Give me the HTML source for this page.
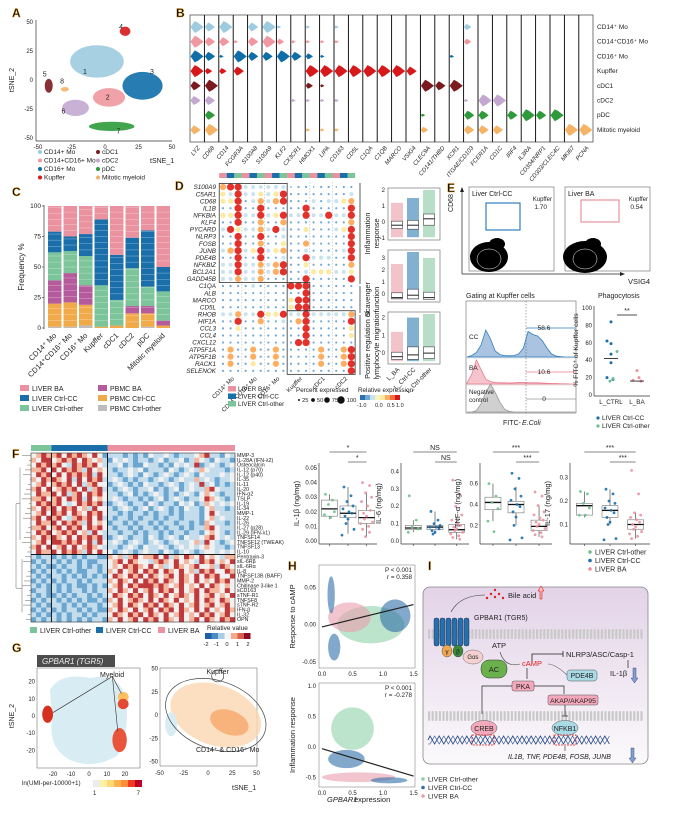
<!DOCTYPE html>
<html><head><meta charset="utf-8"><title>Myeloid figure</title>
<style>
html,body{margin:0;padding:0;background:#fff}
svg{display:block;font-family:"Liberation Sans",Arial,sans-serif}
.pl{font-weight:bold;font-size:12px;fill:#111;stroke:#f39c12;stroke-width:0.4}
</style></head>
<body>
<svg id="fig" width="673" height="814" viewBox="0 0 673 814" xmlns="http://www.w3.org/2000/svg">
<text class="pl" x="12" y="17">A</text>
<text class="pl" x="176" y="17">B</text>
<text class="pl" x="12" y="196">C</text>
<text class="pl" x="175" y="190">D</text>
<text class="pl" x="447" y="192">E</text>
<text class="pl" x="12" y="458">F</text>
<text class="pl" x="12" y="652">G</text>
<text class="pl" x="288" y="570">H</text>
<text class="pl" x="428" y="570">I</text>
</svg>
<script>
const NS='http://www.w3.org/2000/svg';
const svg=document.getElementById('fig');
function mk(tag,attrs,parent){const e=document.createElementNS(NS,tag);for(const k in attrs)e.setAttribute(k,attrs[k]);(parent||svg).appendChild(e);return e;}
function tx(x,y,s,size,extra){const t=mk('text',Object.assign({x:x,y:y,'font-size':size,fill:'#222'},extra||{}));t.textContent=s;return t;}

/* ================= A: tSNE ================= */
const tsneClusters=['CD14+ Mo','CD14+CD16+ Mo','CD16+ Mo','Kupffer','cDC1','cDC2','pDC','Mitotic myeloid'];
const tsneCx=[-6,3,28,15,-42,-22,5,-30];
const tsneCy=[16,-15,-5,42,-5,-24,-40,-8];
const tsneRx=[20,12,15,4,3,10,17,3];
const tsneRy=[14,8,12,4,6,7,4,2];
const tsneNumX=[-15,2,35,12,-45,-31,10,-32];
const tsneNumY=[5,-17,5,44,3,-29,-46,-3];
const tsneNums=['1','2','3','4','5','6','7','8'];
const tsneTicks=[-50,-25,0,25,50];
const cellColors=['#9fcbe0','#f0979f','#0f6ea8','#d7191c','#7b1a1f','#c3a7d0','#2e9a3a','#f5b366'];
const axA=v=>38+(v+50)*1.34, ayA=v=>22+(50-v)*1.16;
{const a1=mk('line',{x1:36,y1:20,x2:36,y2:141,stroke:'#333','stroke-width':0.7});


const a2=mk('line',{x1:36,y1:141,x2:172,y2:141,stroke:'#333','stroke-width':0.7});


tsneTicks.forEach(t=>{tx(axA(t),149,String(t),6,{'text-anchor':'middle'});tx(33,ayA(t)+2,String(t),6,{'text-anchor':'end'});});
const yl=tx(14,80,'tSNE_2',7,{transform:'rotate(-90 14 80)','text-anchor':'middle'});


const xl=tx(150,163,'tSNE_1',7);


tsneClusters.forEach((c,i)=>{
 const e=mk('ellipse',{cx:axA(tsneCx[i]),cy:ayA(tsneCy[i]),rx:tsneRx[i]*1.34,ry:tsneRy[i]*1.16,fill:cellColors[i],opacity:0.9});
 
 
 tx(axA(tsneNumX[i]),ayA(tsneNumY[i]),tsneNums[i],7,{'text-anchor':'middle'});
 const col=i<4?0:1, row=i%4;
 const lx=col?98:40, ly=154+row*8.5;
 const d=mk('circle',{cx:lx,cy:ly-2,r:2,fill:cellColors[i]});
 
 
 tx(lx+4,ly,c,6.5);
});}

/* ================= B: violins ================= */
const violinGenes=['LYZ','CD68','CD14','FCGR3A','S100A8','S100A9','KLF2','CX3CR1','HMOX1','LIPA','CD163','CD5L','C1QA','C1QB','MARCO','VSIG4','CLEC9A','CD141/THBD','XCR1','ITGAE/CD103','FCER1A','CD1C','IRF4','IL3RA','CD304/NRP1','CD303/CLEC4C','MKI67','PCNA'];
const violinRows=['CD14\u207A Mo','CD14\u207ACD16\u207A Mo','CD16\u207A Mo','Kupffer','cDC1','cDC2','pDC','Mitotic myeloid'];
const violinLevels=['44443303','33324334','43120000','01430000','33300000','44300000','12400000','01300100','11242101','01141101','11040101','00040000','00040000','00040000','00040000','00030000','00004012','00003000','00104000','22000133','00000433','00000403','00000030','00000040','00000030','00000040','00000004','00000004'];
{const bx=190,bw=14.4;
const r=mk('rect',{x:bx,y:15,width:403,height:127,fill:'none',stroke:'#555','stroke-width':0.8});


violinGenes.forEach((g,j)=>{
 const x0=bx+j*bw;
 if(j>0){mk('line',{x1:x0,y1:15,x2:x0,y2:142,stroke:'#000','stroke-width':0.9});}
 const t=tx(x0+bw/2+3,148,g,6,{'text-anchor':'end','font-style':'italic',transform:'rotate(-50 '+(x0+bw/2+3)+' 148)'});
 
 
 for(let i=0;i<8;i++){
  const lv=+violinLevels[j][i]; if(!lv)continue;
  const cy=27+i*14.7, L=2+lv*2.9, h=lv*1.5;
  const p=mk('path',{d:'M'+(x0+0.5)+' '+cy+' L'+(x0+L*0.35)+' '+(cy-h)+' L'+(x0+L*0.6)+' '+(cy-h*0.7)+' L'+(x0+L)+' '+cy+' L'+(x0+L*0.6)+' '+(cy+h*0.7)+' L'+(x0+L*0.35)+' '+(cy+h)+'Z',fill:cellColors[i]});
  
  
 }
});
violinRows.forEach((rn,i)=>{const t=tx(597,29+i*14.7,rn,6.5);});}

/* ================= C: stacked bars ================= */
const barCats=['CD14\u207A Mo','CD14\u207ACD16\u207A Mo','CD16\u207A Mo','Kupffer','cDC1','cDC2','pDC','Mitotic myeloid'];
const segNames=['PBMC Ctrl-other','PBMC Ctrl-CC','PBMC BA','LIVER Ctrl-other','LIVER Ctrl-CC','LIVER BA'];
const segPbmcOther=[1,1,2,0,0,0,1,0];
const segPbmcCC=[19,20,17,1,2,12,11,2];
const segPbmcBA=[19,24,16,0,0,6,6,4];
const segLiverOther=[23,18,24,34,21,31,16,24];
const segLiverCC=[17,12,18,54,37,25,46,20];
const segLiverBA=[21,25,23,11,40,26,20,50];
const segColors=['#bdbdbd','#f0aa4a','#b55a9b','#7cc49a','#1a6fab','#ea929f'];
const freqTicks=[0,25,50,75,100];
{const y0=328,yh=122/100,xs=k=>48+k*15.5;
const yAx=mk('line',{x1:44,y1:205,x2:44,y2:329,stroke:'#333','stroke-width':0.7});


freqTicks.forEach(t=>{tx(41,y0-t*yh+2,String(t),6.5,{'text-anchor':'end'});mk('line',{x1:42,x2:44,y1:y0-t*yh,y2:y0-t*yh,stroke:'#333','stroke-width':0.6});});
const yt=tx(24,267,'Frequency %',8,{transform:'rotate(-90 24 267)','text-anchor':'middle'});


const series=[segPbmcOther,segPbmcCC,segPbmcBA,segLiverOther,segLiverCC,segLiverBA];
barCats.forEach((c,k)=>{
 let cum=0;
 series.forEach((s,si)=>{
  const v=s[k]; if(v<=0)return;
  const r=mk('rect',{x:xs(k),y:y0-(cum+v)*yh,width:13.5,height:v*yh,fill:segColors[si]});
  
  
  for(let q=1;q<v/5;q++){mk('line',{x1:xs(k),x2:xs(k)+13.5,y1:y0-(cum+q*5)*yh,y2:y0-(cum+q*5)*yh,stroke:'#fff','stroke-width':0.35,opacity:0.7});}
  cum+=v;
 });
 const cx=xs(k)+9;
 const t=tx(cx,336,c,7.5,{'text-anchor':'end',transform:'rotate(-45 '+cx+' 336)'});
 
 
});
[5,4,3,2,1,0].forEach((si,n)=>{
 const col=n<3?0:1,row=n%3, lx=col?98:20, ly=391+row*10;
 const r=mk('rect',{x:lx,y:ly-6,width:9,height:6,fill:segColors[si]});
 
 
 tx(lx+12,ly,segNames[si],7);
});}

/* ================= D: dot plot ================= */
const dotGenes=['S100A9','C5AR1','CD68','IL1B','NFKBIA','KLF4','PYCARD','NLRP3','FOSB','JUNB','PDE4B','NFKBIZ','BCL2A1','GADD45B','C1QA','ALB','MARCO','CD5L','RHOB','HIF1A','CCL3','CCL4','CXCL12','ATP5F1A','ATP5F1B','RACK1','SELENOK'];
const dotGroups=['CD14\u207A Mo','CD14\u207ACD16\u207A Mo','CD16\u207A Mo','Kupffer','cDC1','cDC2'];
const dotLevels=['455222222011011011','325223235111111112','335124245111212234','115115111115111115','335225235225225225','115114114111111114','253224252113111235','115115112111111115','115114113114111115','245235234112111125','115115112115222115','225224245113111114','225224245112333223','224224111115111115','111121111555111111','111111111115111111','111111111355111111','111111111355111111','224225335225222224','115114112145111115','113111111115111113','111111111115111113','111111111155111111','141141141111141145','141141141111141145','141131141111141145','111111111111111115'];
const dotSize=[0.7,1.1,2.0,2.6,3.1,3.6];
const dotCol=['#4a8cc4','#6fa8d6','#c8e3ef','#fde9a0','#fdae61','#e4302a'];
const groupStrip=['#ea929f','#1a6fab','#7cc49a'];
{const cx=j=>223+j*7.55, cy=i=>187+i*7.07;
for(let j=0;j<18;j++){const s=mk('rect',{x:cx(j)-3.8,y:173,width:7.6,height:5,fill:groupStrip[j%3]});}
for(let g=1;g<6;g++){mk('line',{x1:cx(3*g-0.5),x2:cx(3*g-0.5),y1:182,y2:374,stroke:'#aaa','stroke-width':0.5,'stroke-dasharray':'1.5 1.5'});}
dotGenes.forEach((gn,i)=>{
 const t=tx(216,cy(i)+2.2,gn,6.3,{'text-anchor':'end','font-style':'italic'});
 
 
 for(let j=0;j<18;j++){const lv=+dotLevels[i][j];
  const c=mk('circle',{cx:cx(j),cy:cy(i),r:dotSize[lv],fill:dotCol[lv]});
  
  }
});
[[0,14,0,9],[14,18,9,12],[18,27,9,18]].forEach(b=>{const r=mk('rect',{x:cx(b[2]-0.5),y:cy(b[0]-0.5),width:(b[3]-b[2])*7.55,height:(b[1]-b[0])*7.07,fill:'none',stroke:'#333','stroke-width':0.8});});
dotGroups.forEach((g,k)=>{const x=cx(3*k+1)+4;const t=tx(x,379,g,6,{'text-anchor':'end',transform:'rotate(-45 '+x+' 379)'});});
[['LIVER BA','#ea929f'],['LIVER Ctrl-CC','#1a6fab'],['LIVER Ctrl-other','#7cc49a']].forEach((e,n)=>{const r=mk('rect',{x:228,y:386+n*7.5,width:8,height:5.5,fill:e[1]});tx(238,391+n*7.5,e[0],6.3);});
tx(296,392,'Percent expressed',6.3);
const pctVals=['25','50','75','100'];
pctVals.forEach((p,n)=>{const c=mk('circle',{cx:299+n*14,cy:400,r:1+n*0.9,fill:'#111'});tx(302+n*14+n*0.9,402,p,5.8);});
tx(358,392,'Relative expression',6.3);
const cb=['#2c6fb3','#6fa8d6','#c8e3ef','#f5f5c0','#fde9a0','#fdae61','#f46d43','#d7191c'];
cb.forEach((c,n)=>{mk('rect',{x:360+n*5,y:395,width:5,height:5,fill:c});});
tx(357,407,'-1.0',5.5);tx(375,407,'0.0',5.5);tx(387,407,'0.5',5.5);tx(396,407,'1.0',5.5);
[[183,284,'Inflammation','response'],[286,313,'Scavenger','function'],[315,375,'Positive regulation of','lymphocyte migration']].forEach((b,n)=>{
 mk('line',{x1:360,x2:360,y1:b[0],y2:b[1],stroke:'#333','stroke-width':0.8});
 const m=(b[0]+b[1])/2;
 const t1=tx(370,m,b[2],7.3,{'text-anchor':'middle',transform:'rotate(-90 370 '+m+')'});
 
 
 tx(379,m,b[3],7.3,{'text-anchor':'middle',transform:'rotate(-90 379 '+m+')'});
});}
const modTop=[188,250,312];
const modMed=[[-0.2,-0.2,0.2],[-0.3,-0.1,-0.3],[-0.2,-0.1,0.0]];
const modQ1=[[-0.4,-0.45,-0.2],[-0.4,-0.4,-0.45],[-0.35,-0.35,-0.3]];
const modQ3=[[0.05,0.1,0.5],[0.1,0.4,0.15],[0.05,0.35,0.35]];
const modHi=[[1.2,1.5,2.0],[2.5,3.5,3.0],[1.2,2.0,2.2]];
const modYmin=[-1,-0.5,-0.5], modYmax=[2,3.5,2.2];
const modTicks=[['2','1','0','-1'],['3','2','1','0'],['2','1','0']];
const modTickV=[[2,1,0,-1],[3,2,1,0],[2,1,0]];
{const grp=['#ea929f','#1a6fab','#7cc49a'];
modTop.forEach((y0,m)=>{
 const h=52,fy=v=>y0+h-(v-modYmin[m])/(modYmax[m]-modYmin[m])*(h-4)-2;
 const r=mk('rect',{x:388,y:y0,width:52,height:h,fill:'#fff',stroke:'#888','stroke-width':0.8});
 
 
 modTickV[m].forEach((v,n)=>tx(385,fy(v)+2,modTicks[m][n],6,{'text-anchor':'end'}));
 for(let g=0;g<3;g++){
  const x=397+g*16;
  const cl=mk('rect',{x:x-6,y:fy(modHi[m][g]),width:12,height:fy(modYmin[m]+0.05)-fy(modHi[m][g]),fill:grp[g],opacity:0.55});
  
  
  const b=mk('rect',{x:x-5.5,y:fy(modQ3[m][g]),width:11,height:fy(modQ1[m][g])-fy(modQ3[m][g]),fill:'#fff',stroke:'#444','stroke-width':0.6});
  
  
  mk('line',{x1:x-5.5,x2:x+5.5,y1:fy(modMed[m][g]),y2:fy(modMed[m][g]),stroke:'#222','stroke-width':1});
 }
});
['L_BA','L_Ctrl-CC','L_Ctrl-other'].forEach((s,g)=>{const x=400+g*16;tx(x,370,s,6.3,{'text-anchor':'end',transform:'rotate(-45 '+x+' 370)'});});}

/* ================= E: flow ================= */
{[[469,'Liver Ctrl-CC','1.70',[486,203,34,27],'#2f7fc0'],[565,'Liver BA','0.54',[581,200,38,22],'#ea929f']].forEach((p,n)=>{
 const x=p[0];
 const f=mk('rect',{x:x,y:187,width:85,height:84,fill:'#fff',stroke:'#666','stroke-width':0.6});
 
 
 const b=mk('ellipse',{cx:x+20,cy:257,rx:n?22:19,ry:n?16:15,fill:'#000'});
 
 
 mk('ellipse',{cx:x+20,cy:259,rx:12,ry:10,fill:'none',stroke:'#fff','stroke-width':0.5});
 mk('ellipse',{cx:x+28,cy:244,rx:8,ry:6,fill:'#000'});
 const g=mk('rect',{x:p[3][0],y:p[3][1],width:p[3][2],height:p[3][3],fill:'none',stroke:p[4],'stroke-width':1.2});
 
 
 tx(x+3,196,p[1],7);tx(x+83,201,'Kupffer',6,{'text-anchor':'end'});tx(x+78,209,p[2],6.5,{'text-anchor':'end'});
});
mk('line',{x1:462,y1:274,x2:462,y2:190,stroke:'#222','stroke-width':0.7});
mk('path',{d:'M460 192 L462 187 L464 192Z',fill:'#222'});
mk('line',{x1:462,y1:274,x2:620,y2:274,stroke:'#222','stroke-width':0.7});
mk('path',{d:'M620 272 L625 274 L620 276Z',fill:'#222'});
tx(453,203,'CD68',7,{transform:'rotate(-90 453 203)','text-anchor':'middle'});
tx(628,284,'VSIG4',7.5);
tx(466,298,'Gating at Kupffer cells',7);
tx(598,298,'Phagocytosis',7);}
const histBins=[0,1,2,3,4,5,6,7,8,9,10,11,12,13,14,15,16,17,18,19,20,21,22,23];
const histCC=[0,0.05,0.15,0.4,0.9,0.6,0.2,0.08,0.05,0.04,0.05,0.1,0.3,0.85,0.75,0.7,0.55,0.3,0.1,0.03,0.01,0,0,0];
const histBA=[0.05,0.4,1,0.6,0.2,0.1,0.06,0.05,0.05,0.04,0.05,0.06,0.06,0.05,0.05,0.05,0.04,0.03,0.02,0.02,0.01,0.01,0,0];
const histNeg=[0,0,0.05,0.3,0.7,1,0.7,0.35,0.1,0.02,0,0,0,0,0,0,0,0,0,0,0,0,0,0];
const histPct=['58.6','10.6','0'];
{const f=mk('rect',{x:466,y:301,width:110,height:112,fill:'#fff',stroke:'#666','stroke-width':0.6});


const hx=b=>467+b*4.7;
[[histCC,357,'#2f7fc0','#a9c3e0','CC',30],[histBA,384,'#ea7d8f','#f5c4cc','BA',24],[histNeg,412,'#999','#d0d0d0','',28]].forEach((h,n)=>{
 let d='M'+hx(0)+' '+h[1];
 histBins.forEach((b,i)=>{d+=' L'+hx(b)+' '+(h[1]-h[0][i]*h[5]);});
 d+=' L'+hx(23)+' '+h[1]+'Z';
 const p=mk('path',{d:d,fill:h[3],stroke:h[2],'stroke-width':0.8});
 
 
 if(n<2)mk('line',{x1:466,x2:576,y1:h[1]+1,y2:h[1]+1,stroke:'#bbb','stroke-width':0.4});
 if(h[4])tx(469,h[1]-14-(n?0:4),h[4],6.5);
 mk('line',{x1:526,x2:576,y1:h[1]-(n==0?29:n==1?12:13),y2:h[1]-(n==0?29:n==1?12:13),stroke:h[2],'stroke-width':0.7});
 tx(544,h[1]-(n==0?27:n==1?10:11),histPct[n],6.5,{'text-anchor':'middle'});
});
tx(469,394,'Negative',6.3);tx(469,402,'control',6.3);
mk('line',{x1:526,x2:526,y1:301,y2:413,stroke:'#555','stroke-width':0.5,'stroke-dasharray':'1.5 1.5'});
tx(503,425,'FITC-',7);tx(522,425,'E.Coli',7,{'font-style':'italic'});}
const phagoCC=[84,62,59,47,37,20,18];
const phagoOther=[50,19,16];
const phagoBA=[28,20,17,16];
const phagoTicks=[0,20,40,60,80,100];
{const py=v=>395-v*0.87;
mk('line',{x1:594,x2:594,y1:306,y2:396,stroke:'#333','stroke-width':0.7});
mk('line',{x1:594,x2:650,y1:396,y2:396,stroke:'#333','stroke-width':0.7});
phagoTicks.forEach(t=>tx(592,py(t)+2,String(t),6,{'text-anchor':'end'}));
tx(578,350,'% FITC\u207A of Kupffer cells',6.8,{transform:'rotate(-90 578 350)','text-anchor':'middle'});
const ccOff=[0,-4,0,0,0,-4,2], oOff=[3,-1,-4], bOff=[0,2,-4,4];
phagoCC.forEach((v,i)=>{const c=mk('circle',{cx:611+ccOff[i],cy:py(v),r:1.5,fill:'#1a6fab'});});
phagoOther.forEach((v,i)=>{const c=mk('circle',{cx:611+oOff[i]+3,cy:py(v),r:1.5,fill:'#6cc08e'});});
phagoBA.forEach((v,i)=>{const c=mk('circle',{cx:637+bOff[i],cy:py(v),r:1.5,fill:'#ea929f'});});
mk('line',{x1:604,x2:618,y1:py(42),y2:py(42),stroke:'#111','stroke-width':0.8});
mk('line',{x1:630,x2:644,y1:py(16),y2:py(16),stroke:'#111','stroke-width':0.8});
mk('line',{x1:617,x2:637,y1:315,y2:315,stroke:'#111','stroke-width':0.7});tx(627,313,'**',7,{'text-anchor':'middle'});
tx(611,404,'L_CTRL',6.3,{'text-anchor':'middle'});tx(637,404,'L_BA',6.3,{'text-anchor':'middle'});
[['LIVER Ctrl-CC','#1a6fab'],['LIVER Ctrl-other','#6cc08e']].forEach((e,n)=>{const c=mk('circle',{cx:598,cy:418+n*8,r:1.6,fill:e[1]});tx(602,420+n*8,e[0],6.5);});}

/* ================= F: heatmap ================= */
const heatRows=['MMP-3','IL-28A (IFN-\u03BB2)','Osteocalcin','IL-12 (p70)','IL-12 (p40)','IL-35','IL-11','IL-20','IFN-\u03B12','TSLP','IL-19','IL-34','MMP-1','IL-22','IL-26','IL-27 (p28)','IL-29 (IFN-\u03BB1)','TNFSF14','TNFSF12 (TWEAK)','TNFSF13','IL-10','Pentraxin-3','sIL-6R\u03B2','sIL-6R\u03B1','IL-8','TNFSF13B (BAFF)','MMP-2','Chitinase 3-like 1','sCD163','sTNF-R1','TNFSF8','sTNF-R2','IFN-\u03B2','IL-32','OPN'];
const heatVals=['2343342434324201110101021121011123411021','3244234342432310212101101201120132102110','2434342143434211120100211010212140121012','3342424343142321011212011102101213211101','2434242434341421101210210121012102111212','3243432414243411210101101210121131210112','2342343424134220121010211012101214120101','3424234342413411012101120101201211342111','2433424134243421101201012101012102321011','3342342434142321210110101201210112432101','2434342124343410121011021011021201321212','3243424342314221012101201210102110231101','2342434243243421101011010110101110242111','3424342134342411011010110101101110231211','2433424343142320110101101011011010321101','3342342434243421011010110101101011342111','2434234342314211101101011010110110232101','3243432424343410121011021012102112342121','2342443434241421210121012101211231421012','3424234242343211101210211210121212321101','2433424343142422012101211021012101221212','1011010101011003231342334241324324232133','0101101010100112342432213432423214342324','1010010110101012324343242312432342231432','0101101010011013242342434243242314342243','1010110101010102432434243234243242434224','0101010110101113243242434243243242324342','1010101010010102342434443432342324243232','0110101011010113243242342434242342433242','1010010101101012432434243242343242342324','0101101010100103242343242432423242432432','1010110101011012342432434243242342342342','0101010110101003243242342434243242423243','1010101011010112432434243242342324342342','0101101010101103242342434243242342432434'];
const heatGroupN=[4,11,25];
const heatColors=['#6aa6cf','#c3dded','#f1f1f1','#f3b7a0','#c0393b'];
{const x0=31,cw=204/40,y0=453,rh=169/35;
let c0=0;[['#7cc49a'],['#1a6fab'],['#ea929f']].forEach((g,n)=>{const r=mk('rect',{x:x0+c0*cw,y:445,width:heatGroupN[n]*cw,height:6,fill:g[0]});c0+=heatGroupN[n];});
heatRows.forEach((rn,i)=>{
 for(let j=0;j<40;j++){const c=mk('rect',{x:x0+j*cw,y:y0+i*rh,width:cw+0.2,height:rh+0.2,fill:heatColors[+heatVals[i][j]]});}
 const t=tx(237,y0+i*rh+4,rn,5.3);
 
 
});
mk('rect',{x:x0,y:y0,width:204,height:169,fill:'none',stroke:'#333','stroke-width':0.6});
mk('line',{x1:x0,x2:x0+204,y1:y0+21*rh,y2:y0+21*rh,stroke:'#000','stroke-width':0.9});
mk('line',{x1:x0+4*cw,x2:x0+4*cw,y1:y0,y2:y0+169,stroke:'#000','stroke-width':0.9});
mk('line',{x1:x0+15*cw,x2:x0+15*cw,y1:y0,y2:y0+169,stroke:'#000','stroke-width':0.9});
let dd='M16 '+(y0+10.5*rh)+' L16 '+(y0+28*rh)+' M16 '+(y0+10.5*rh)+' L20 '+(y0+10.5*rh)+' M16 '+(y0+28*rh)+' L22 '+(y0+28*rh);
dd+=' M20 '+(y0+3*rh)+' L20 '+(y0+18*rh)+' M22 '+(y0+22*rh)+' L22 '+(y0+33*rh);
for(let i=0;i<35;i++){const lx=20+((i*7)%9)+2;dd+=' M'+lx+' '+(y0+(i+0.5)*rh)+' L31 '+(y0+(i+0.5)*rh);}
mk('path',{d:dd,fill:'none',stroke:'#666','stroke-width':0.5});
[['LIVER Ctrl-other','#7cc49a',30],['LIVER Ctrl-CC','#1a6fab',96],['LIVER BA','#ea929f',158]].forEach(e=>{const r=mk('rect',{x:e[2],y:627,width:7,height:6,fill:e[1]});tx(e[2]+10,633,e[0],7);});
tx(207,630,'Relative value',6.5);
const hb=['#1f5fa3','#4a8cc4','#a8cde3','#f4f4f4','#f2a98c','#d6604d','#8e0c25'];
hb.forEach((c,n)=>mk('rect',{x:205+n*6.5,y:633,width:6.5,height:6,fill:c}));
['-2','-1','0','1','2'].forEach((s,n)=>tx(206+n*10.5,646,s,5.8,{'text-anchor':'middle'}));}

/* ================= F boxplots ================= */
const cytNames=['IL-1\u03B2 (ng/mg)','IL-6 (ng/mg)','TNF-\u03B1 (ng/mg)','IL-17 (ng/mg)'];
const cytX0=[319,401,480,570], cytW=[58,68,72,80];
const cytYmin=[0,0,0.05,0.03], cytYmax=[0.05,0.42,0.75,0.34];
const cytTicks=[[0,0.01,0.02,0.03,0.04,0.05],[0,0.1,0.2,0.3,0.4],[0.2,0.4,0.6],[0.1,0.2,0.3]];
const cytTickLab=[['0.00','0.01','0.02','0.03','0.04','0.05'],['0.0','0.1','0.2','0.3','0.4'],['0.2','0.4','0.6'],['0.1','0.2','0.3']];
const cytQ1=[[0.017,0.016,0.012],[0.065,0.065,0.05],[0.35,0.32,0.15],[0.14,0.13,0.08]];
const cytMed=[[0.022,0.019,0.016],[0.075,0.08,0.065],[0.42,0.4,0.19],[0.18,0.16,0.10]];
const cytQ3=[[0.028,0.024,0.021],[0.09,0.09,0.095],[0.47,0.43,0.25],[0.19,0.18,0.12]];
const cytLo=[[0.015,0.005,0.003],[0.05,0.04,0.01],[0.24,0.2,0.09],[0.13,0.1,0.04]];
const cytHi=[[0.032,0.037,0.033],[0.12,0.17,0.14],[0.6,0.57,0.39],[0.24,0.25,0.15]];
const ptsOther=[[0.032,0.028,0.025,0.02,0.018,0.016],[0.26,0.12,0.08,0.07,0.05],[0.6,0.48,0.42,0.36,0.24,0.14],[0.24,0.23,0.19,0.17,0.14,0.14]];
const ptsCC=[[0.037,0.031,0.027,0.024,0.022,0.02,0.019,0.017,0.015,0.012,0.008,0.004],[0.17,0.12,0.1,0.09,0.08,0.08,0.07,0.06,0.05,0.04],[0.7,0.65,0.55,0.48,0.44,0.4,0.38,0.33,0.28,0.2,0.08,0.06],[0.25,0.23,0.2,0.19,0.17,0.16,0.15,0.13,0.11,0.1,0.04,0.035]];
const ptsBA=[[0.04,0.038,0.033,0.03,0.027,0.024,0.021,0.019,0.017,0.015,0.013,0.012,0.01,0.008,0.006,0.003],[0.35,0.27,0.2,0.15,0.12,0.1,0.09,0.08,0.07,0.06,0.05,0.04,0.03,0.02,0.01],[0.52,0.48,0.39,0.33,0.3,0.27,0.25,0.23,0.21,0.19,0.17,0.15,0.13,0.11,0.09],[0.33,0.23,0.15,0.14,0.13,0.12,0.11,0.1,0.09,0.08,0.07,0.06,0.05,0.04]];
const cytSig=[['*','*'],['NS','NS'],['***','***'],['***','***']];
{const top=463,bot=544,gc=['#6cc08e','#1a6fab','#ea929f'],jit=[-4,3,-1,5,-5,1,4,-3,0,-2,6,-6,2,-4,3,-1];
cytNames.forEach((nm,k)=>{
 const x0=cytX0[k],w=cytW[k],fy=v=>bot-3-(v-cytYmin[k])/(cytYmax[k]-cytYmin[k])*(bot-top-8);
 mk('line',{x1:x0,x2:x0,y1:top,y2:bot,stroke:'#333','stroke-width':0.7});
 mk('line',{x1:x0,x2:x0+w,y1:bot,y2:bot,stroke:'#333','stroke-width':0.7});
 cytTicks[k].forEach((t,n)=>tx(x0-2,fy(t)+2,cytTickLab[k][n],6,{'text-anchor':'end'}));
 const yt=tx(x0-20,(top+bot)/2,nm,7.5,{transform:'rotate(-90 '+(x0-20)+' '+((top+bot)/2)+')','text-anchor':'middle'});
 
 
 const gx=[x0+w*0.18,x0+w*0.5,x0+w*0.82];
 [ptsOther,ptsCC,ptsBA].forEach((pts,g)=>{
  mk('line',{x1:gx[g],x2:gx[g],y1:fy(cytHi[k][g]),y2:fy(cytLo[k][g]),stroke:'#333','stroke-width':0.6});
  const b=mk('rect',{x:gx[g]-8,y:fy(cytQ3[k][g]),width:16,height:fy(cytQ1[k][g])-fy(cytQ3[k][g]),fill:'#fff',stroke:'#777','stroke-width':0.6});
  
  
  mk('line',{x1:gx[g]-8,x2:gx[g]+8,y1:fy(cytMed[k][g]),y2:fy(cytMed[k][g]),stroke:'#111','stroke-width':1.3});
  pts[k].forEach((v,i)=>{const c=mk('circle',{cx:gx[g]+jit[i%16],cy:fy(v),r:1.4,fill:gc[g],opacity:0.9});});
  mk('line',{x1:gx[g],x2:gx[g],y1:bot,y2:bot+2,stroke:'#333','stroke-width':0.6});
 });
 mk('line',{x1:gx[0],x2:gx[2],y1:452,y2:452,stroke:'#111','stroke-width':0.6});
 mk('line',{x1:gx[1],x2:gx[2],y1:462,y2:462,stroke:'#111','stroke-width':0.6});
 tx((gx[0]+gx[2])/2,450,cytSig[k][0],7,{'text-anchor':'middle'});
 tx((gx[1]+gx[2])/2,460,cytSig[k][1],7,{'text-anchor':'middle'});
});
[['LIVER Ctrl-other','#6cc08e'],['LIVER Ctrl-CC','#1a6fab'],['LIVER BA','#ea929f']].forEach((e,n)=>{const c=mk('circle',{cx:590,cy:552+n*8.5,r:1.8,fill:e[1]});tx(595,554.5+n*8.5,e[0],7);});}

/* ================= G ================= */
{const t=mk('rect',{x:37,y:655,width:78,height:12,fill:'#4d4d4d'});


tx(42,664,'GPBAR1 (TGR5)',8,{fill:'#eee','font-style':'italic'});
mk('rect',{x:37,y:668,width:103,height:100,fill:'#fff',stroke:'#777','stroke-width':0.6});
mk('path',{d:'M50 690 Q60 672 90 678 Q120 672 126 700 Q130 730 118 755 Q95 770 70 760 Q48 748 52 720 Z',fill:'#d8ecf3'});
const gX=[-20,-10,0,10,20], gY=[20,10,0,-10,-20];
const gx=v=>89+v*1.8, gy=v=>716-v*1.72;
gX.forEach(v=>tx(gx(v),776,String(v),6,{'text-anchor':'middle'}));
gY.forEach(v=>tx(35,gy(v)+2,String(v),6,{'text-anchor':'end'}));
tx(14,716,'tSNE_2',7,{transform:'rotate(-90 14 716)','text-anchor':'middle'});
[[-23,1,3,5,'#d7301f'],[19,11,3,3,'#fcbf60'],[19,7,3,3,'#e34a33'],[17,-14,4,7,'#e8553a']].forEach((e,n)=>{const c=mk('ellipse',{cx:gx(e[0]),cy:gy(e[1]),rx:e[2]*1.8,ry:e[3]*1.72,fill:e[4]});});
mk('path',{d:'M'+gx(-20)+' '+gy(2)+' L'+gx(13)+' '+gy(23)+' L'+gx(16)+' '+gy(-9)+' M'+gx(13)+' '+gy(23)+' L'+gx(18)+' '+gy(13),fill:'none',stroke:'#333','stroke-width':0.6});
tx(100,677,'Myeloid',7);
tx(22,785,'ln(UMI-per-10000+1)',6.3);
const cbg=['#e8eef0','#fdf0a5','#fed976','#feb24c','#fd8d3c','#f03b20','#bd0026'];
cbg.forEach((c,n)=>mk('rect',{x:93+n*7,y:780,width:7,height:7,fill:c}));
tx(93,795,'1',6);tx(140,795,'7',6,{'text-anchor':'end'});
mk('rect',{x:160,y:668,width:97,height:98,fill:'#fff',stroke:'#777','stroke-width':0.6});
const rx=v=>208+v*0.97, ry=v=>715-v*0.93;
mk('ellipse',{cx:rx(8),cy:ry(0),rx:47,ry:30,fill:'#fbd6b0',opacity:0.8,transform:'rotate(20 '+rx(8)+' '+ry(0)+')'});
mk('ellipse',{cx:rx(22),cy:ry(-8),rx:20,ry:12,fill:'#f6a66a',opacity:0.8,transform:'rotate(20 '+rx(22)+' '+ry(-8)+')'});
mk('ellipse',{cx:rx(-38),cy:ry(-10),rx:6,ry:12,fill:'#d8ecf3'});
const e1=mk('ellipse',{cx:rx(8),cy:ry(0),rx:52,ry:34,fill:'none',stroke:'#444','stroke-width':0.7,transform:'rotate(20 '+rx(8)+' '+ry(0)+')'});


mk('ellipse',{cx:rx(10),cy:ry(42),rx:6,ry:6,fill:'none',stroke:'#444','stroke-width':0.7});
tx(rx(10),674,'Kupffer',7,{'text-anchor':'middle'});
tx(196,752,'CD14\u207A & CD16\u207A Mo',7);
[-50,-25,0,25,50].forEach(v=>{tx(rx(v),775,String(v),6,{'text-anchor':'middle'});tx(158,ry(v)+2,String(v),6,{'text-anchor':'end'});});
tx(232,790,'tSNE_1',7);}

/* ================= H ================= */
const hXTicks=[0,0.5,1,1.5];
const hTopTicks=[-0.05,0,0.05], hBotTicks=[-0.5,0,0.5,1];
const hTopSlope=0.02, hTopInt=-0.003, hBotSlope=-0.3, hBotInt=-0.03;
const cloudTopX=[0.8,0.45,0.2,1.2,0.15], cloudTopY=[0.0,0.01,-0.03,0.012,0.04], cloudTopRx=[0.55,0.35,0.1,0.25,0.06], cloudTopRy=[0.025,0.02,0.018,0.022,0.025];
const cloudBotX=[0.5,0.4,0.6,1.1], cloudBotY=[0.3,-0.2,-0.5,-0.55], cloudBotRx=[0.35,0.3,0.6,0.3], cloudBotRy=[0.35,0.15,0.08,0.05];
const cloudTopC=['#8fd0a8','#ea9fae','#2f6fa8','#2f6fa8','#2f6fa8'], cloudBotC=['#8fd0a8','#2f6fa8','#ea9fae','#2f6fa8'];
{const hx=v=>322+v*61;
[[565,668,-0.058,0.08,hTopTicks,hTopSlope,hTopInt,cloudTopX,cloudTopY,cloudTopRx,cloudTopRy,cloudTopC,'Response to cAMP','0.358'],
 [683,787,-0.66,1.05,hBotTicks,hBotSlope,hBotInt,cloudBotX,cloudBotY,cloudBotRx,cloudBotRy,cloudBotC,'Inflammation response','-0.278']].forEach((p,n)=>{
 const fy=v=>p[1]-(v-p[2])/(p[3]-p[2])*(p[1]-p[0]);
 const f=mk('rect',{x:319,y:p[0],width:96,height:p[1]-p[0],fill:'#fff',stroke:'#888','stroke-width':0.6});
 
 
 p[7].forEach((cx,i)=>{const e=mk('ellipse',{cx:hx(cx),cy:fy(p[8][i]),rx:p[9][i]*61,ry:Math.abs(fy(0)-fy(p[10][i])),fill:p[11][i],opacity:0.6});});
 const l=mk('line',{x1:hx(0),y1:fy(p[6]),x2:hx(1.5),y2:fy(p[6]+p[5]*1.5),stroke:'#222','stroke-width':1.2});
 
 
 p[4].forEach(t=>tx(316,fy(t)+2,(n===0?t.toFixed(2):t.toFixed(1)),6,{'text-anchor':'end'}));
 hXTicks.forEach(t=>tx(hx(t),p[1]+8,t.toFixed(1),6,{'text-anchor':'middle'}));
 const mid=(p[0]+p[1])/2;
 tx(295,mid,p[12],7.5,{transform:'rotate(-90 295 '+mid+')','text-anchor':'middle'});
 tx(412,p[0]+7,'P < 0.001',6.3,{'text-anchor':'end'});tx(412,p[0]+14,'r = '+p[13],6.3,{'text-anchor':'end'});
});
tx(327,802,'GPBAR1',7.5,{'font-style':'italic'});tx(354,802,'expression',7.5);
[['LIVER Ctrl-other','#8fd0a8'],['LIVER Ctrl-CC','#2f6fa8'],['LIVER BA','#ea9fae']].forEach((e,n)=>{const c=mk('circle',{cx:423,cy:779+n*8.5,r:1.8,fill:e[1]});tx(428,781.5+n*8.5,e[0],6.8);});}

/* ================= I: pathway ================= */
{const defs=mk('defs',{});
const lg=mk('linearGradient',{id:'ig',x1:0,y1:0,x2:0,y2:1},defs);
mk('stop',{offset:'0','stop-color':'#e3d3e8'},lg);mk('stop',{offset:'1','stop-color':'#fbf9fb'},lg);
const bx=mk('rect',{x:423,y:587,width:225,height:177,rx:7,fill:'url(#ig)',stroke:'#888','stroke-width':0.8});


for(let i=0;i<60;i++){mk('rect',{x:428+i*3.6,y:629,width:2.2,height:10,rx:1,fill:'#c9c9c9'});mk('rect',{x:428+i*3.6,y:711,width:2.2,height:10,rx:1,fill:'#c9c9c9'});}
for(let i=0;i<6;i++){const c=mk('rect',{x:434+i*6,y:618,width:5,height:28,rx:2,fill:'#2a6fad',stroke:'#123','stroke-width':0.4});}
const ba=[[495,590],[491,594],[499,594],[495,597],[487,598],[503,598]];
ba.forEach(b=>mk('circle',{cx:b[0],cy:b[1],r:1.2,fill:'#e31a1c'}));
tx(508,598,'Bile acid',7.5);
mk('path',{d:'M540 599 L540 591 L538 591 L541 586 L544 591 L542 591 L542 599Z',fill:'#fbb',stroke:'#c00','stroke-width':0.5});
mk('path',{d:'M485 595 Q460 595 451 612',fill:'none',stroke:'#333','stroke-width':0.6});
tx(474,620,'GPBAR1 (TGR5)',7);
[[447,651,5,'#f0a850','\u03B3'],[458,651,5,'#3a8a3a','\u03B2']].forEach(c=>{mk('ellipse',{cx:c[0],cy:c[1],rx:c[2],ry:6,fill:c[3],stroke:'#333','stroke-width':0.4});tx(c[0],c[1]+2.5,c[4],6.5,{'text-anchor':'middle'});});
mk('ellipse',{cx:473,cy:657,rx:10,ry:7,fill:'#f4d0d0',stroke:'#555','stroke-width':0.4});tx(473,659,'G\u03B1s',6,{'text-anchor':'middle'});
const ac=mk('rect',{x:481,y:660,width:26,height:18,rx:8,fill:'#6ab04c',stroke:'#333','stroke-width':0.5});


tx(494,672,'AC',7.5,{'text-anchor':'middle'});
tx(492,648,'ATP',7.5);
mk('path',{d:'M500 652 Q505 668 520 664',fill:'none',stroke:'#444','stroke-width':0.6});
tx(522,666,'cAMP',7.5,{fill:'#e31a1c'});
mk('path',{d:'M532 661 L532 654 L563 654',fill:'none',stroke:'#222','stroke-width':0.8});
mk('line',{x1:563,y1:651,x2:563,y2:657,stroke:'#222','stroke-width':0.8});
tx(566,657,'NLRP3/ASC/Casp-1',7.5);
mk('line',{x1:628,x2:628,y1:660,y2:668,stroke:'#222','stroke-width':0.7});
tx(610,676,'IL-1\u03B2',7.5);
mk('path',{d:'M633 668 L633 678 L631 678 L634.5 683 L638 678 L636 678 L636 668Z',fill:'#7f9fd0',stroke:'#336','stroke-width':0.4});
const pde=mk('rect',{x:567,y:670,width:30,height:11,rx:3,fill:'#a8dbe6',stroke:'#555','stroke-width':0.5});


tx(582,678,'PDE4B',7,{'text-anchor':'middle'});
mk('path',{d:'M567 675 Q555 664 548 664',fill:'none',stroke:'#555','stroke-width':0.6});
const pka=mk('rect',{x:512,y:681,width:22,height:10,rx:2,fill:'#f3a9bb',stroke:'#555','stroke-width':0.5});


tx(523,689,'PKA',7,{'text-anchor':'middle'});
mk('path',{d:'M527 668 L527 679 M512 686 L482 686 L482 714 M534 686 L564 686 L564 694',fill:'none',stroke:'#222','stroke-width':0.7});
const akap=mk('rect',{x:548,y:695,width:50,height:10,rx:2,fill:'#f3a9bb',stroke:'#555','stroke-width':0.5});


tx(573,703,'AKAP/AKAP95',6.8,{'text-anchor':'middle'});
mk('line',{x1:565,x2:565,y1:705,y2:716,stroke:'#222','stroke-width':0.7});
mk('line',{x1:562,x2:568,y1:716,y2:716,stroke:'#222','stroke-width':0.7});
const creb=mk('ellipse',{cx:484,cy:728,rx:13,ry:7.5,fill:'#f3a9bb',stroke:'#555','stroke-width':0.5});


tx(484,731,'CREB',7,{'text-anchor':'middle'});
const nf=mk('ellipse',{cx:565,cy:728,rx:13,ry:7.5,fill:'#a8dbe6',stroke:'#555','stroke-width':0.5});


tx(565,731,'NFKB1',7,{'text-anchor':'middle'});
let dna='M428 740';for(let i=0;i<40;i++){dna+=' L'+(430+i*4.6)+' '+(i%2?744:736);}
mk('path',{d:dna,fill:'none',stroke:'#2a4f8a','stroke-width':0.9});
let dna2='M428 744';for(let i=0;i<40;i++){dna2+=' L'+(430+i*4.6)+' '+(i%2?736:744);}
mk('path',{d:dna2,fill:'none',stroke:'#2a4f8a','stroke-width':0.6});
mk('rect',{x:472,y:735,width:22,height:10,fill:'none',stroke:'#e31a1c','stroke-width':0.8,'stroke-dasharray':'2 1'});
mk('rect',{x:554,y:735,width:22,height:10,fill:'none',stroke:'#e31a1c','stroke-width':0.8,'stroke-dasharray':'2 1'});
mk('line',{x1:565,x2:565,y1:746,y2:751,stroke:'#222','stroke-width':0.6});
tx(508,759,'IL1B, TNF, PDE4B, FOSB, JUNB',7,{'font-style':'italic'});
mk('path',{d:'M631 748 L631 758 L629 758 L632.5 763 L636 758 L634 758 L634 748Z',fill:'#7f9fd0',stroke:'#336','stroke-width':0.4});}
</script>
</body></html>
